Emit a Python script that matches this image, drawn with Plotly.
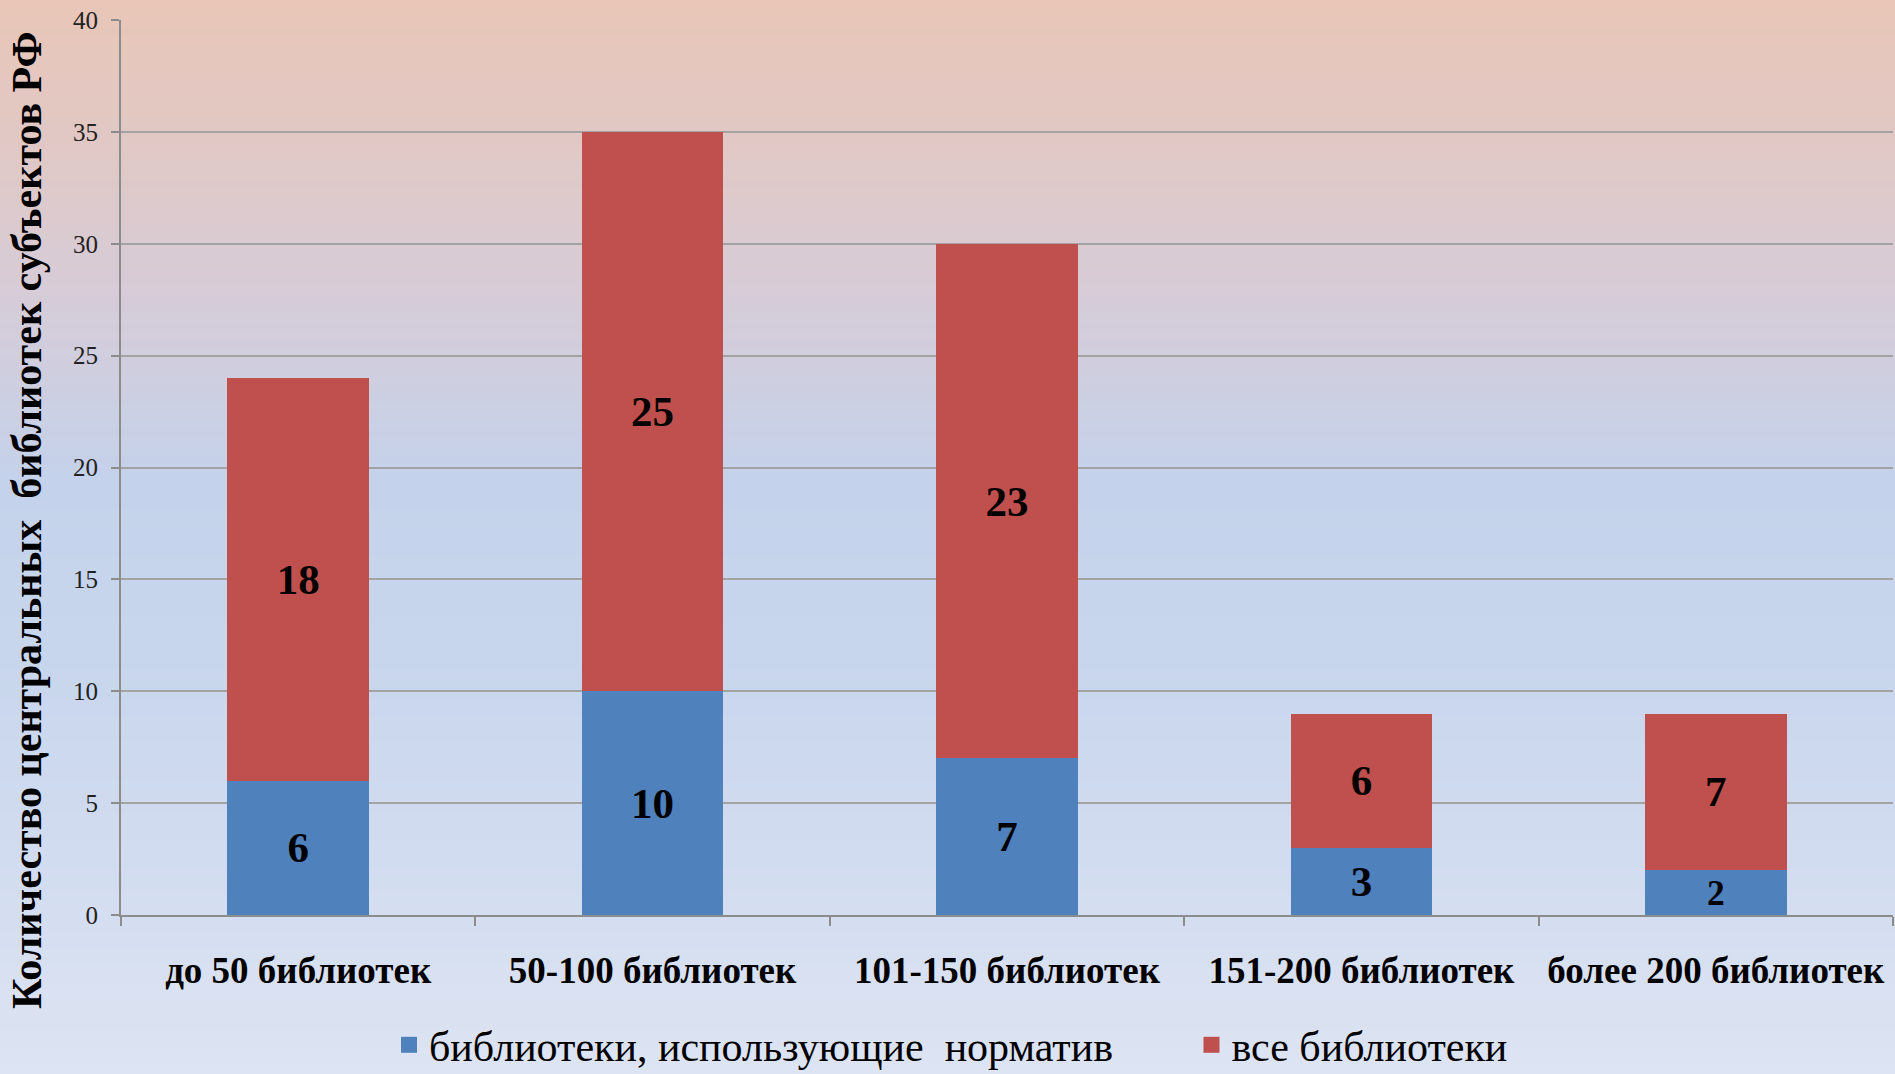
import plotly.graph_objects as go

categories = ["до 50 библиотек", "50-100 библиотек", "101-150 библиотек",
              "151-200 библиотек", "более 200 библиотек"]
normativ = [6, 10, 7, 3, 2]
vse = [18, 25, 23, 6, 7]
series_names = ["библиотеки, использующие  норматив", "все библиотеки"]
series_colors = ["#4F81BD", "#C0504D"]
y_ticks = [0, 5, 10, 15, 20, 25, 30, 35, 40]
y_title = "Количество центральных  библиотек субъектов РФ"

W, H = 1895, 1074
ML, MR, MT, MB = 121, 2, 20, 159

# background gradient stops (fraction of figure height from top, rgb)
stops = [(0.0, (233, 198, 183)), (0.12, (226, 200, 196)), (0.28, (214, 204, 216)),
         (0.45, (196, 210, 235)), (0.62, (200, 214, 237)), (0.80, (210, 220, 240)),
         (1.0, (221, 228, 243))]

def grad(t):
    for (a, ca), (b, cb) in zip(stops[:-1], stops[1:]):
        if a <= t <= b:
            f = (t - a) / (b - a)
            return tuple(round(ca[i] + (cb[i] - ca[i]) * f) for i in range(3))
    return stops[-1][1]

pw = W - ML - MR
ph = H - MT - MB
shapes = []
n = 120
for i in range(n):
    top_px = i * H / n
    bot_px = (i + 1) * H / n
    c = grad((i + 0.5) / n)
    shapes.append(dict(
        type="rect", xref="paper", yref="paper", layer="below",
        x0=-ML / pw - 0.01, x1=1 + MR / pw + 0.01,
        y0=(H - MB - bot_px) / ph - 0.0005, y1=(H - MB - top_px) / ph + 0.0005,
        fillcolor="rgb(%d,%d,%d)" % c, line=dict(width=0)))

label_font = dict(family="Liberation Serif", size=43, color="black", weight="bold")

fig = go.Figure()
for vals, nm, col in [(normativ, series_names[0], series_colors[0]),
                      (vse, series_names[1], series_colors[1])]:
    fig.add_trace(go.Bar(
        x=categories, y=vals, name=nm, marker_color=col, showlegend=False,
        marker_line_width=0, text=vals, textposition="inside",
        insidetextanchor="middle", textfont=label_font, textangle=0))

# legend entries with larger square keys
for nm, col, pad in [(series_names[0], series_colors[0], 7),
                     (series_names[1], series_colors[1], 0)]:
    fig.add_trace(go.Scatter(
        x=[None], y=[None], mode="markers", name=nm + "\u00a0" * pad,
        marker=dict(symbol="square", size=17, color=col), hoverinfo="skip"))

fig.add_annotation(
    text=y_title, textangle=-90, showarrow=False,
    xref="paper", yref="paper", x=(27 - ML) / pw, y=(H - MB - 520) / ph,
    xanchor="center", yanchor="middle",
    font=dict(family="Liberation Serif", size=42, color="black", weight="bold"))

fig.update_layout(
    width=W, height=H, barmode="stack", bargap=0.6,
    margin=dict(l=ML, r=MR, t=MT, b=MB, autoexpand=False),
    paper_bgcolor="rgb(221,228,243)", plot_bgcolor="rgba(0,0,0,0)",
    shapes=shapes, uniformtext=dict(mode=False),
    font=dict(family="Liberation Serif", color="black"),
    legend=dict(orientation="h", traceorder="normal",
                xref="container", yref="container",
                x=389 / W, xanchor="left", y=1 - 1045 / H, yanchor="middle",
                font=dict(family="Liberation Serif", size=42, color="black"),
                bgcolor="rgba(0,0,0,0)", itemwidth=30),
    xaxis=dict(showgrid=False, showline=True, linecolor="#8c8c8c", linewidth=2,
               ticks="outside", tickson="boundaries", ticklen=9, tickcolor="#8c8c8c",
               tickwidth=2, ticklabelstandoff=22, tickangle=0, automargin=False,
               tickfont=dict(family="Liberation Serif", size=37, color="black", weight="bold")),
    yaxis=dict(range=[0, 40], tickvals=y_ticks, showgrid=True, gridcolor="#a3a3a3",
               gridwidth=2, showline=True, linecolor="#8c8c8c", linewidth=2,
               ticks="outside", ticklen=8, tickcolor="#8c8c8c", tickwidth=2,
               zeroline=False, ticklabelstandoff=8, automargin=False,
               tickfont=dict(family="Liberation Serif", size=25, color="#222222")),
)
fig.write_html("out.html", config={"displayModeBar": False},
               post_script="document.body.style.margin='0';document.body.style.overflow='hidden';")
